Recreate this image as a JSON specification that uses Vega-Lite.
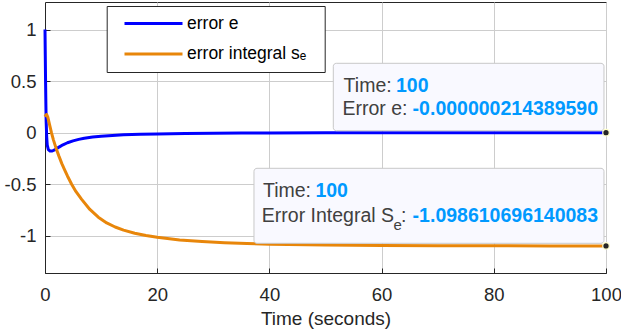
{
  "$schema": "https://vega.github.io/schema/vega-lite/v6.json",
  "width": 561,
  "height": 271,
  "autosize": {"type": "none"},
  "padding": {"left": 45, "top": 2, "right": 15, "bottom": 62},
  "background": "white",
  "config": {
    "font": "Liberation Sans",
    "view": {"stroke": "#262626", "strokeWidth": 1},
    "axis": {
      "grid": true,
      "gridColor": "#cdcdcd",
      "gridWidth": 1,
      "domainColor": "#262626",
      "tickColor": "#262626",
      "tickSize": -5,
      "labelFlush": false,
      "labelFontSize": 18.5,
      "labelColor": "#262626",
      "titleFontSize": 19,
      "titleFontWeight": "normal",
      "titleColor": "#262626"
    }
  },
  "data": {
    "values": [
      {"t": 0, "value": 1, "series": "error e"},
      {"t": 0.05, "value": 0.75, "series": "error e"},
      {"t": 0.1, "value": 0.5, "series": "error e"},
      {"t": 0.15, "value": 0.3, "series": "error e"},
      {"t": 0.2, "value": 0.12, "series": "error e"},
      {"t": 0.3, "value": -0.04, "series": "error e"},
      {"t": 0.4, "value": -0.12, "series": "error e"},
      {"t": 0.6, "value": -0.165, "series": "error e"},
      {"t": 0.9, "value": -0.178, "series": "error e"},
      {"t": 1.3, "value": -0.178, "series": "error e"},
      {"t": 1.8, "value": -0.165, "series": "error e"},
      {"t": 2.5, "value": -0.14, "series": "error e"},
      {"t": 3.2, "value": -0.118, "series": "error e"},
      {"t": 4, "value": -0.098, "series": "error e"},
      {"t": 5, "value": -0.08, "series": "error e"},
      {"t": 6, "value": -0.065, "series": "error e"},
      {"t": 7, "value": -0.054, "series": "error e"},
      {"t": 8.5, "value": -0.043, "series": "error e"},
      {"t": 10, "value": -0.035, "series": "error e"},
      {"t": 12, "value": -0.027, "series": "error e"},
      {"t": 14, "value": -0.021, "series": "error e"},
      {"t": 17, "value": -0.015, "series": "error e"},
      {"t": 20, "value": -0.012, "series": "error e"},
      {"t": 25, "value": -0.008, "series": "error e"},
      {"t": 30, "value": -0.0055, "series": "error e"},
      {"t": 35, "value": -0.004, "series": "error e"},
      {"t": 40, "value": -0.0028, "series": "error e"},
      {"t": 50, "value": -0.0014, "series": "error e"},
      {"t": 60, "value": -0.0007, "series": "error e"},
      {"t": 70, "value": -0.00035, "series": "error e"},
      {"t": 80, "value": -0.00015, "series": "error e"},
      {"t": 90, "value": -0.00005, "series": "error e"},
      {"t": 100, "value": -0.00000021438959, "series": "error e"},
      {"t": 0, "value": 0.155, "series": "error integral sₑ"},
      {"t": 0.15, "value": 0.17, "series": "error integral sₑ"},
      {"t": 0.3, "value": 0.175, "series": "error integral sₑ"},
      {"t": 0.5, "value": 0.15, "series": "error integral sₑ"},
      {"t": 0.8, "value": 0.08, "series": "error integral sₑ"},
      {"t": 1.15, "value": 0, "series": "error integral sₑ"},
      {"t": 1.5, "value": -0.07, "series": "error integral sₑ"},
      {"t": 2, "value": -0.155, "series": "error integral sₑ"},
      {"t": 2.5, "value": -0.23, "series": "error integral sₑ"},
      {"t": 3, "value": -0.3, "series": "error integral sₑ"},
      {"t": 3.5, "value": -0.36, "series": "error integral sₑ"},
      {"t": 4, "value": -0.42, "series": "error integral sₑ"},
      {"t": 4.75, "value": -0.5, "series": "error integral sₑ"},
      {"t": 5.5, "value": -0.57, "series": "error integral sₑ"},
      {"t": 6.5, "value": -0.645, "series": "error integral sₑ"},
      {"t": 8, "value": -0.745, "series": "error integral sₑ"},
      {"t": 9.5, "value": -0.82, "series": "error integral sₑ"},
      {"t": 11, "value": -0.875, "series": "error integral sₑ"},
      {"t": 12.5, "value": -0.915, "series": "error integral sₑ"},
      {"t": 14, "value": -0.945, "series": "error integral sₑ"},
      {"t": 16, "value": -0.975, "series": "error integral sₑ"},
      {"t": 18, "value": -0.998, "series": "error integral sₑ"},
      {"t": 20, "value": -1.015, "series": "error integral sₑ"},
      {"t": 24, "value": -1.04, "series": "error integral sₑ"},
      {"t": 28, "value": -1.055, "series": "error integral sₑ"},
      {"t": 32, "value": -1.067, "series": "error integral sₑ"},
      {"t": 36, "value": -1.075, "series": "error integral sₑ"},
      {"t": 40, "value": -1.081, "series": "error integral sₑ"},
      {"t": 50, "value": -1.09, "series": "error integral sₑ"},
      {"t": 60, "value": -1.094, "series": "error integral sₑ"},
      {"t": 70, "value": -1.0965, "series": "error integral sₑ"},
      {"t": 80, "value": -1.0977, "series": "error integral sₑ"},
      {"t": 90, "value": -1.0983, "series": "error integral sₑ"},
      {"t": 100, "value": -1.098610696140083, "series": "error integral sₑ"}
    ]
  },
  "layer": [
    {
      "mark": {"type": "line", "strokeWidth": 3, "strokeJoin": "round"},
      "encoding": {
        "x": {
          "field": "t",
          "type": "quantitative",
          "scale": {"domain": [0, 100], "nice": false},
          "axis": {"title": "Time (seconds)", "values": [0, 20, 40, 60, 80, 100], "labelPadding": 17.5, "titlePadding": 5}
        },
        "y": {
          "field": "value",
          "type": "quantitative",
          "scale": {"domain": [-1.361, 1.267], "nice": false, "zero": false},
          "axis": {"title": null, "values": [-1, -0.5, 0, 0.5, 1], "labelPadding": 14, "labelExpr": "'' + datum.value"}
        },
        "color": {
          "field": "series",
          "type": "nominal",
          "scale": {"domain": ["error e", "error integral sₑ"], "range": ["#0000ff", "#e8860a"]},
          "legend": {
            "title": null,
            "orient": "none",
            "legendX": 61.7,
            "legendY": 4,
            "symbolType": "stroke",
            "symbolSize": 3364,
            "symbolStrokeWidth": 3,
            "clipHeight": 25,
            "rowPadding": 5.6,
            "padding": 5,
            "symbolOffset": 11.3,
            "labelOffset": 3,
            "labelFontSize": 17.5,
            "labelFont": "Liberation Sans",
            "labelColor": "#000000",
            "strokeColor": "#262626",
            "fillColor": "white",
            "labelExpr": "datum.label + '\u2800'"
          }
        }
      }
    },
    {
      "data": {"values": [{}]},
      "mark": {"type": "rect", "fill": "#f9f9ff", "stroke": "#c8c8c8", "strokeWidth": 1, "cornerRadius": 3},
      "encoding": {
        "x": {"datum": 51.39, "type": "quantitative"},
        "x2": {"datum": 99.64},
        "y": {"datum": 0.6725, "type": "quantitative"},
        "y2": {"datum": 0.0189}
      }
    },
    {
      "data": {"values": [{}]},
      "mark": {"type": "rect", "fill": "#f9f9ff", "stroke": "#c8c8c8", "strokeWidth": 1, "cornerRadius": 3},
      "encoding": {
        "x": {"datum": 37.25, "type": "quantitative"},
        "x2": {"datum": 99.64},
        "y": {"datum": -0.3457, "type": "quantitative"},
        "y2": {"datum": -1.073}
      }
    },
    {
      "data": {"values": [{}]},
      "mark": {"type": "text", "align": "left", "baseline": "alphabetic", "fontSize": 19.5, "color": "#404040"},
      "encoding": {"x": {"datum": 53.23, "type": "quantitative"}, "y": {"datum": 0.397, "type": "quantitative"}, "text": {"value": "Time:"}}
    },
    {
      "data": {"values": [{}]},
      "mark": {"type": "text", "align": "left", "baseline": "alphabetic", "fontSize": 19.5, "fontWeight": "bold", "color": "#0099ff"},
      "encoding": {"x": {"datum": 62.57, "type": "quantitative"}, "y": {"datum": 0.397, "type": "quantitative"}, "text": {"value": "100"}}
    },
    {
      "data": {"values": [{}]},
      "mark": {"type": "text", "align": "left", "baseline": "alphabetic", "fontSize": 19.5, "color": "#404040"},
      "encoding": {"x": {"datum": 53.03, "type": "quantitative"}, "y": {"datum": 0.171, "type": "quantitative"}, "text": {"value": "Error e:"}}
    },
    {
      "data": {"values": [{}]},
      "mark": {"type": "text", "align": "left", "baseline": "alphabetic", "fontSize": 19.5, "fontWeight": "bold", "color": "#0099ff"},
      "encoding": {"x": {"datum": 65.53, "type": "quantitative"}, "y": {"datum": 0.171, "type": "quantitative"}, "text": {"value": "-0.000000214389590"}}
    },
    {
      "data": {"values": [{}]},
      "mark": {"type": "text", "align": "left", "baseline": "alphabetic", "fontSize": 19.5, "color": "#404040"},
      "encoding": {"x": {"datum": 38.86, "type": "quantitative"}, "y": {"datum": -0.627, "type": "quantitative"}, "text": {"value": "Time:"}}
    },
    {
      "data": {"values": [{}]},
      "mark": {"type": "text", "align": "left", "baseline": "alphabetic", "fontSize": 19.5, "fontWeight": "bold", "color": "#0099ff"},
      "encoding": {"x": {"datum": 48.2, "type": "quantitative"}, "y": {"datum": -0.627, "type": "quantitative"}, "text": {"value": "100"}}
    },
    {
      "data": {"values": [{}]},
      "mark": {"type": "text", "align": "left", "baseline": "alphabetic", "fontSize": 19.5, "color": "#404040"},
      "encoding": {"x": {"datum": 38.65, "type": "quantitative"}, "y": {"datum": -0.864, "type": "quantitative"}, "text": {"value": "Error Integral S"}}
    },
    {
      "data": {"values": [{}]},
      "mark": {"type": "text", "align": "left", "baseline": "alphabetic", "fontSize": 15, "color": "#404040"},
      "encoding": {"x": {"datum": 62.12, "type": "quantitative"}, "y": {"datum": -0.947, "type": "quantitative"}, "text": {"value": "e"}}
    },
    {
      "data": {"values": [{}]},
      "mark": {"type": "text", "align": "left", "baseline": "alphabetic", "fontSize": 19.5, "color": "#404040"},
      "encoding": {"x": {"datum": 63.46, "type": "quantitative"}, "y": {"datum": -0.864, "type": "quantitative"}, "text": {"value": ":"}}
    },
    {
      "data": {"values": [{}]},
      "mark": {"type": "text", "align": "left", "baseline": "alphabetic", "fontSize": 19.5, "fontWeight": "bold", "color": "#0099ff"},
      "encoding": {"x": {"datum": 65.53, "type": "quantitative"}, "y": {"datum": -0.864, "type": "quantitative"}, "text": {"value": "-1.098610696140083"}}
    },
    {
      "transform": [{"filter": "datum.t == 100"}],
      "mark": {"type": "point", "filled": true, "fill": "#262626", "stroke": "#ffffcc", "strokeWidth": 1.2, "size": 42, "opacity": 1, "clip": false},
      "encoding": {
        "x": {"field": "t", "type": "quantitative"},
        "y": {"field": "value", "type": "quantitative"}
      }
    }
  ]
}
